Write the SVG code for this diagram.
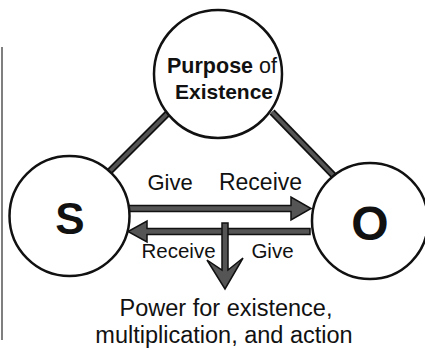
<svg xmlns="http://www.w3.org/2000/svg" width="425" height="348" viewBox="0 0 425 348">
<style>
.node{fill:#fff;stroke:#111;stroke-width:2.5}
.t{font-family:"Liberation Sans",Arial,sans-serif;fill:#111;text-anchor:middle}
.b{font-weight:bold}
.link{stroke:#111;stroke-width:7;fill:none}
.linkin{stroke:#555;stroke-width:3.5;fill:none}
.arr{fill:#555;stroke:#111;stroke-width:1.5;stroke-linejoin:miter}
</style>
<rect width="425" height="348" fill="#fff"/>
<line x1="2" y1="47" x2="2" y2="340" stroke="#555" stroke-width="1.5"/>
<g id="connectors">
<line class="link" x1="168" y1="113" x2="106" y2="175"/>
<line class="linkin" x1="168" y1="113" x2="106" y2="175"/>
<line class="link" x1="272" y1="112" x2="336" y2="178"/>
<line class="linkin" x1="272" y1="112" x2="336" y2="178"/>
<path class="arr" d="M125,205.5 H291 V197 L311,208.5 L291,220 V211.5 H125 Z"/>
<path class="arr" d="M310,228.5 H147 V221 L128,231.5 L147,242 V234.5 H310 Z"/>
<path class="arr" d="M222,223 H228 V270 L243,258 L225,289 L207,260 L222,270 Z"/>
</g>
<g id="purpose">
<circle class="node" cx="218" cy="74" r="64"/>
<text class="t" x="222" y="73" font-size="21.5"><tspan class="b">Purpose</tspan> of</text>
<text class="t b" x="224" y="99" font-size="21">Existence</text>
</g>
<g id="S">
<circle class="node" cx="69.5" cy="216" r="60"/>
<text class="t b" x="70" y="234" font-size="44">S</text>
</g>
<g id="O">
<circle class="node" cx="370" cy="221" r="58"/>
<text class="t b" x="370" y="240" font-size="48">O</text>
</g>
<g id="labels">
<text class="t" x="170" y="190" font-size="22">Give</text>
<text class="t" x="260.5" y="190" font-size="23">Receive</text>
<text class="t" x="178.5" y="258" font-size="20.5">Receive</text>
<text class="t" x="272.5" y="258" font-size="20.5">Give</text>
<text class="t" x="226" y="316" font-size="23.5">Power for existence,</text>
<text class="t" x="224" y="343" font-size="23.5">multiplication, and action</text>
</g>
</svg>
